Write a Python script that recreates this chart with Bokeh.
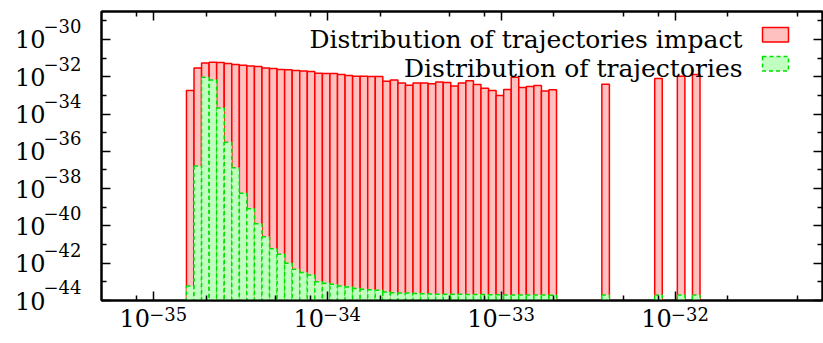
import math
from bokeh.plotting import figure
from bokeh.models import (LogAxis, FixedTicker, CustomJSTickFormatter, Label,
                          BoxAnnotation, Range1d, ColumnDataSource)
from bokeh.embed import file_html
from bokeh.resources import INLINE

# ---------------- data ----------------
# histogram bins: lower edge of bin k = BIN_START * exp(0.1 * k)
BIN_START = 1.54e-35
bin_index = [0, 1, 2, 3, 4, 5, 6, 7, 8, 9, 10, 11, 12, 13, 14, 15, 16, 17, 18, 19,
             20, 21, 22, 23, 24, 25, 26, 27, 28, 29, 30, 31, 32, 33, 34, 35, 36, 37,
             38, 39, 40, 41, 42, 43, 44, 45, 46, 47, 48, 55, 62, 65, 67]

impact = [1.82e-33, 2.95e-32, 5.50e-32, 6.03e-32, 5.75e-32, 5.13e-32, 4.57e-32, 4.17e-32,
          3.80e-32, 3.55e-32, 2.95e-32, 2.75e-32, 2.45e-32, 2.34e-32, 2.19e-32, 2.04e-32,
          1.91e-32, 1.55e-32, 1.51e-32, 1.51e-32, 1.32e-32, 1.17e-32, 1.07e-32, 1.07e-32,
          1.02e-32, 1.02e-32,
          5.75e-33, 6.76e-33, 4.68e-33, 3.55e-33, 4.68e-33, 4.68e-33, 4.17e-33, 5.25e-33,
          4.90e-33, 3.24e-33, 4.68e-33, 6.03e-33, 3.89e-33, 2.45e-33, 1.82e-33, 1.00e-33,
          2.09e-33, 9.55e-33, 2.63e-33, 3.02e-33, 3.39e-33, 1.74e-33, 2.00e-33,
          3.98e-33, 8.13e-33, 1.07e-32, 1.32e-32]

trajectories = [6.03e-44, 1.62e-37, 9.55e-33, 6.61e-33, 2.14e-34, 3.09e-36, 1.32e-37, 5.62e-39,
                8.32e-40, 1.32e-40, 2.63e-41, 6.03e-42, 3.02e-42, 1.00e-42, 4.79e-43, 3.16e-43,
                2.34e-43, 1.02e-43, 8.51e-44, 7.41e-44, 6.03e-44, 5.37e-44, 4.37e-44, 3.98e-44,
                3.72e-44, 3.55e-44,
                2.82e-44, 2.63e-44, 2.51e-44, 2.51e-44, 2.40e-44, 2.29e-44, 2.24e-44, 2.19e-44,
                2.19e-44, 2.14e-44, 2.14e-44, 2.09e-44, 2.09e-44, 2.09e-44, 2.04e-44, 2.04e-44,
                2.00e-44, 2.00e-44, 2.00e-44, 2.00e-44, 1.95e-44, 1.95e-44, 1.91e-44,
                2.00e-44, 2.00e-44, 2.00e-44, 2.00e-44]

series_labels = ["Distribution of trajectories impact", "Distribution of trajectories"]

x_major = [1e-35, 1e-34, 1e-33, 1e-32]
x_minor = [8e-36, 2e-35, 5e-35, 8e-35, 2e-34, 5e-34, 8e-34, 2e-33, 5e-33, 8e-33, 2e-32, 5e-32]
y_major = [1e-44, 1e-42, 1e-40, 1e-38, 1e-36, 1e-34, 1e-32, 1e-30]
y_minor = [1e-43, 1e-41, 1e-39, 1e-37, 1e-35, 1e-33, 1e-31, 1e-29]

X_LO, X_HI = 5e-36, 7e-32
Y_LO, Y_HI = 1e-44, 10 ** -28.5

# ---------------- layout ----------------
FL, FT = 101, 11          # frame left / top on the page
FW, FH = 721, 289         # frame size
FONT = "DejaVu Serif"
BASE_SIZE = "24px"
EXP_SIZE = "18px"

lefts = [BIN_START * math.exp(0.1 * k) for k in bin_index]
rights = [BIN_START * math.exp(0.1 * (k + 1)) for k in bin_index]
src = ColumnDataSource(dict(left=lefts, right=rights, impact=impact,
                            traj=trajectories, bottom=[Y_LO] * len(lefts)))

p = figure(frame_width=FW, frame_height=FH, x_axis_type="log", y_axis_type="log",
           x_range=Range1d(X_LO, X_HI), y_range=Range1d(Y_LO, Y_HI),
           output_backend="svg", toolbar_location=None,
           min_border_left=FL, min_border_right=1, min_border_top=FT, min_border_bottom=42)
p.grid.visible = False
p.outline_line_color = "black"
p.outline_line_width = 2
p.background_fill_color = "white"
p.border_fill_color = "white"

p.quad(left="left", right="right", bottom="bottom", top="impact", source=src,
       fill_color="#ffc0c0", line_color="#ff0000", line_width=1.5)
p.quad(left="left", right="right", bottom="bottom", top="traj", source=src,
       fill_color="#c0ffc0", line_color="#00e000", line_width=1.5, line_dash="4 3")

# tick label pieces: "10" and a raised exponent, shifted with fixed-width spaces
exp_x_code = ('const e = Math.round(Math.log10(tick));'
              'return "\\u2007\\u2007\\u00a0" + (e < 0 ? "\\u2212" : "") + Math.abs(e);')
base_x_code = 'return "10\\u2007\\u2007\\u00a0";'
exp_y_code = ('const e = Math.round(Math.log10(tick));'
              'return (e < 0 ? "\\u2212" : "") + Math.abs(e) + "\\n\\u00a0";')
base_y_code = 'return "10";'
empty_code = "return '';"


def frame_axis(ax, code, size):
    ax.axis_line_width = 2
    ax.axis_line_color = "black"
    ax.major_tick_in = 9
    ax.major_tick_out = 0
    ax.minor_tick_in = 5
    ax.minor_tick_out = 0
    ax.major_tick_line_width = 1.5
    ax.minor_tick_line_width = 1.5
    ax.major_tick_line_color = "black"
    ax.minor_tick_line_color = "black"
    ax.formatter = CustomJSTickFormatter(code=code)
    ax.major_label_text_font = FONT
    ax.major_label_text_font_size = size
    ax.major_label_text_color = "black"


def base_axis(ticks, code, standoff):
    ax = LogAxis(ticker=FixedTicker(ticks=ticks, minor_ticks=[]),
                 formatter=CustomJSTickFormatter(code=code))
    ax.axis_line_color = None
    ax.major_tick_line_color = None
    ax.minor_tick_line_color = None
    ax.major_tick_in = 0
    ax.major_tick_out = 0
    ax.minor_tick_in = 0
    ax.minor_tick_out = 0
    ax.major_label_standoff = standoff
    ax.major_label_text_font = FONT
    ax.major_label_text_font_size = BASE_SIZE
    ax.major_label_text_color = "black"
    return ax


# bottom: exponent next to the frame (raised); base "10" pulled up beside it
p.xaxis.ticker = FixedTicker(ticks=x_major, minor_ticks=x_minor)
frame_axis(p.xaxis[0], exp_x_code, EXP_SIZE)
p.xaxis.major_label_standoff = 3
p.add_layout(base_axis(x_major, base_x_code, -23), "below")

# left: exponent next to the frame (raised by an empty second line); base "10" further left
p.yaxis.ticker = FixedTicker(ticks=y_major, minor_ticks=y_minor)
frame_axis(p.yaxis[0], exp_y_code, EXP_SIZE)
p.yaxis.major_label_standoff = 20
p.add_layout(base_axis(y_major, base_y_code, -5), "left")

# mirrored ticks on top and right
top_ax = LogAxis(ticker=FixedTicker(ticks=x_major, minor_ticks=x_minor))
right_ax = LogAxis(ticker=FixedTicker(ticks=y_major, minor_ticks=y_minor))
for ax in (top_ax, right_ax):
    frame_axis(ax, empty_code, "1px")
    ax.major_label_standoff = 0
p.add_layout(top_ax, "above")
p.add_layout(right_ax, "right")

# ---------------- legend (label left of sample, as in original) ----------------
FR, FB = FL + FW, FT + FH


def px_x(px):
    a, b = math.log10(X_LO), math.log10(X_HI)
    return 10 ** (a + (px - FL) / (FR - FL) * (b - a))


def px_y(py):
    a, b = math.log10(Y_LO), math.log10(Y_HI)
    return 10 ** (a + (FB - py) / (FB - FT) * (b - a))


rows = [
    dict(text=series_labels[0], base=38.5, top=27, bot=41.5,
         fill="#ffc0c0", line="#ff0000", dash="solid"),
    dict(text=series_labels[1], base=68, top=56, bot=70.5,
         fill="#c0ffc0", line="#00e000", dash="4 3"),
]
for r in rows:
    p.add_layout(Label(x=px_x(742), y=px_y(r["base"]), text=r["text"],
                       text_align="right", text_baseline="alphabetic",
                       text_font=FONT, text_font_size="25px", text_color="black"))
    p.add_layout(BoxAnnotation(left=px_x(762), right=px_x(788),
                               top=px_y(r["top"]), bottom=px_y(r["bot"]),
                               fill_color=r["fill"], fill_alpha=1.0,
                               line_color=r["line"], line_width=1.5, line_dash=r["dash"],
                               line_alpha=1.0))

open("out.html", "w", encoding="utf-8").write(file_html(p, INLINE))
